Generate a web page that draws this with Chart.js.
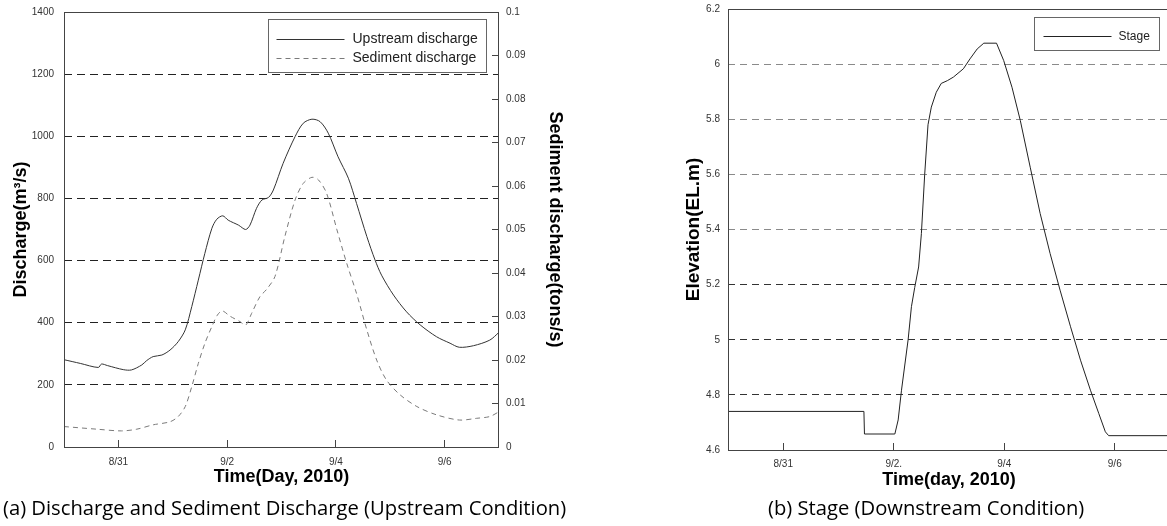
<!DOCTYPE html>
<html>
<head>
<meta charset="utf-8">
<script src="https://cdn.jsdelivr.net/npm/chart.js@4.4.0/dist/chart.umd.min.js"></script>
<style>
  html, body { margin: 0; padding: 0; background: #fff; overflow: hidden; width: 1167px; height: 526px; }
  .box { position: absolute; top: 0; }
  .caption { position: absolute; font-family: "Open Sans", "Noto Sans", sans-serif; font-size: 20.2px; color: #000; white-space: nowrap; }
</style>
</head>
<body>
<div class="box" style="left:0;width:568px;height:500px"><canvas id="chartA" width="568" height="500"></canvas></div>
<div class="box" style="left:660px;width:512px;height:500px"><canvas id="chartB" width="512" height="500"></canvas></div>
<div class="caption" style="left:3px;top:493px">(a) Discharge and Sediment Discharge (Upstream Condition)</div>
<div class="caption" style="left:768px;top:493px">(b) Stage (Downstream Condition)</div>
<script>
// days counted from 8/30 00:00
const tickDays = [1, 3, 5, 7];
const tickLabelsA = ['8/31', '9/2', '9/4', '9/6'];
const tickLabelsB = ['8/31', '9/2.', '9/4', '9/6'];

const upstreamDays = [0, 0.3, 0.63, 0.69, 0.8, 1.09, 1.24, 1.43, 1.52, 1.64, 1.80, 1.95, 2.10, 2.23, 2.35, 2.47, 2.59, 2.72, 2.81, 2.92, 3.02, 3.21, 3.34, 3.42, 3.54, 3.64, 3.76, 3.85, 4.03, 4.25, 4.40, 4.56, 4.71, 4.86, 5.04, 5.23, 5.38, 5.57, 5.72, 5.84, 6.06, 6.30, 6.55, 6.85, 7.10, 7.27, 7.53, 7.83, 8.0];
const upstreamQ = [281, 269, 256, 267, 262, 249, 248, 264, 278, 291, 296, 312, 339, 377, 452, 537, 623, 704, 733, 744, 730, 714, 700, 714, 768, 795, 803, 827, 913, 999, 1042, 1055, 1047, 1010, 934, 865, 784, 677, 602, 553, 489, 435, 393, 355, 334, 321, 326, 344, 369];

const sedimentDays = [0, 0.6, 1.06, 1.34, 1.64, 1.95, 2.10, 2.23, 2.35, 2.47, 2.59, 2.72, 2.82, 2.91, 3.05, 3.24, 3.34, 3.45, 3.60, 3.73, 3.88, 4.06, 4.25, 4.40, 4.56, 4.68, 4.83, 5.02, 5.20, 5.38, 5.57, 5.75, 5.93, 6.18, 6.49, 6.85, 7.27, 7.59, 7.83, 8.0];
const sedimentQ = [0.0047, 0.0041, 0.0037, 0.0041, 0.0051, 0.0058, 0.0070, 0.0093, 0.0139, 0.0192, 0.0238, 0.0277, 0.0303, 0.0313, 0.0301, 0.0288, 0.0280, 0.0307, 0.0345, 0.0363, 0.0392, 0.0483, 0.0568, 0.0606, 0.0620, 0.0614, 0.0583, 0.0499, 0.0422, 0.0353, 0.0269, 0.0200, 0.0154, 0.0120, 0.0093, 0.0074, 0.0062, 0.0066, 0.0070, 0.0081];

const stageDays = [0, 2.46, 2.47, 3.02, 3.08, 3.14, 3.26, 3.32, 3.38, 3.45, 3.50, 3.56, 3.62, 3.68, 3.77, 3.86, 3.97, 4.08, 4.26, 4.38, 4.51, 4.63, 4.86, 4.99, 5.14, 5.29, 5.47, 5.65, 5.83, 6.01, 6.20, 6.38, 6.56, 6.71, 6.83, 6.89, 8.0];
const stageElev = [4.74, 4.74, 4.658, 4.658, 4.709, 4.817, 5.0, 5.12, 5.19, 5.264, 5.385, 5.60, 5.78, 5.844, 5.898, 5.93, 5.94, 5.953, 5.983, 6.019, 6.055, 6.076, 6.076, 6.013, 5.916, 5.796, 5.626, 5.458, 5.313, 5.18, 5.047, 4.926, 4.817, 4.733, 4.666, 4.652, 4.652];

const pts = (xs, ys) => xs.map((x, i) => ({ x: x, y: ys[i] }));
const tickFont = { family: 'Arial, "Liberation Sans", sans-serif', size: 10 };
const titleFont = size => ({ family: 'Arial, "Liberation Sans", sans-serif', size: size, weight: 'bold' });

// fixed axis sizes, no extra label overflow padding
const fixW = w => s => { s.width = w; s.paddingTop = 0; s.paddingBottom = 0; };
const fixH = h => s => { s.height = h; s.paddingLeft = 0; s.paddingRight = 0; };

// frame round the plot area
const frame = {
  id: 'frame',
  afterDatasetsDraw(chart) {
    const a = chart.chartArea, c = chart.ctx;
    c.save();
    c.strokeStyle = '#444';
    c.lineWidth = 1;
    c.strokeRect(Math.round(a.left) + 0.5, Math.round(a.top) + 0.5, Math.round(a.right - a.left) - 1, Math.round(a.bottom - a.top));
    c.restore();
  }
};

// boxed legend inside the plot, like the original figure
function boxLegend(cfg) {
  return {
    id: 'boxLegend',
    afterDraw(chart) {
      const a = chart.chartArea, c = chart.ctx;
      const x0 = Math.round(a.right - cfg.right - cfg.width) + 0.5;
      const y0 = Math.round(a.top + cfg.top) + 0.5;
      c.save();
      c.fillStyle = '#fff';
      c.fillRect(x0, y0, cfg.width, cfg.height);
      c.strokeStyle = '#666';
      c.lineWidth = 1;
      c.strokeRect(x0, y0, cfg.width, cfg.height);
      chart.data.datasets.forEach((ds, i) => {
        const y = Math.round(y0 + cfg.firstRow + i * cfg.rowGap) + 0.5;
        c.strokeStyle = ds.borderColor;
        c.setLineDash(ds.borderDash || []);
        c.beginPath();
        c.moveTo(x0 + cfg.lineStart, y);
        c.lineTo(x0 + cfg.lineEnd, y);
        c.stroke();
        c.setLineDash([]);
        c.fillStyle = '#222';
        c.font = cfg.fontSize + 'px Arial, "Liberation Sans", sans-serif';
        c.textBaseline = 'middle';
        c.fillText(ds.label, x0 + cfg.textStart, y);
      });
      c.restore();
    }
  };
}

new Chart(document.getElementById('chartA'), {
  type: 'line',
  data: {
    datasets: [
      { label: 'Upstream discharge', data: pts(upstreamDays, upstreamQ), yAxisID: 'y', borderColor: '#333', borderWidth: 1, pointRadius: 0, tension: 0.3 },
      { label: 'Sediment discharge', data: pts(sedimentDays, sedimentQ), yAxisID: 'y2', borderColor: '#7a7a7a', borderWidth: 1, borderDash: [5, 4], pointRadius: 0, tension: 0.3 }
    ]
  },
  options: {
    responsive: false,
    animation: false,
    layout: { padding: { top: 12, left: 0, right: 0, bottom: 0 } },
    plugins: { legend: { display: false }, tooltip: { enabled: false } },
    scales: {
      x: {
        type: 'linear', position: 'bottom', min: 0, max: 8,
        afterBuildTicks: s => { s.ticks = tickDays.map(v => ({ value: v })); },
        afterFit: fixH(53),
        ticks: { font: tickFont, color: '#333', padding: 16, maxRotation: 0, autoSkip: false,
          callback: v => tickLabelsA[tickDays.indexOf(v)] },
        grid: { drawOnChartArea: false, tickLength: -7, tickColor: '#444' },
        border: { display: false },
        title: { display: true, text: 'Time(Day, 2010)', font: titleFont(18), color: '#000', padding: { top: 0, bottom: 12 } }
      },
      y: {
        type: 'linear', position: 'left', min: 0, max: 1400,
        afterFit: fixW(64),
        ticks: { stepSize: 200, font: tickFont, color: '#333', padding: 10, callback: v => String(v) },
        grid: { drawTicks: false, color: c => (c.tick.value === 0 || c.tick.value === 1400) ? 'rgba(0,0,0,0)' : '#222' },
        border: { display: false, dash: [8, 5] },
        title: { display: true, text: 'Discharge(m³/s)', font: titleFont(18), color: '#000', padding: { top: 10, bottom: 0 } }
      },
      y2: {
        type: 'linear', position: 'right', min: 0, max: 0.1,
        afterFit: fixW(69),
        ticks: { stepSize: 0.01, font: tickFont, color: '#333', padding: 14,
          callback: v => String(+v.toFixed(2)) },
        grid: { drawOnChartArea: false, tickLength: -7, tickColor: '#444' },
        border: { display: false },
        title: { display: true, text: 'Sediment discharge(tons/s)', font: titleFont(18), color: '#000', padding: { top: 2, bottom: 0 } }
      }
    }
  },
  plugins: [frame, boxLegend({ right: 13, top: 7, width: 218, height: 53, firstRow: 19, rowGap: 19, lineStart: 8, lineEnd: 76, textStart: 84, fontSize: 14 })]
});

new Chart(document.getElementById('chartB'), {
  type: 'line',
  data: {
    datasets: [
      { label: 'Stage', data: pts(stageDays, stageElev), borderColor: '#222', borderWidth: 1, pointRadius: 0, tension: 0 }
    ]
  },
  options: {
    responsive: false,
    animation: false,
    layout: { padding: { top: 9, left: 0, right: 2, bottom: 0 } },
    plugins: { legend: { display: false }, tooltip: { enabled: false } },
    scales: {
      x: {
        type: 'linear', position: 'bottom', min: 0, max: 8,
        afterBuildTicks: s => { s.ticks = tickDays.map(v => ({ value: v })); },
        afterFit: fixH(50),
        ticks: { font: tickFont, color: '#333', padding: 15, maxRotation: 0, autoSkip: false,
          callback: v => tickLabelsB[tickDays.indexOf(v)] },
        grid: { drawOnChartArea: false, tickLength: -7, tickColor: '#444' },
        border: { display: false },
        title: { display: true, text: 'Time(day, 2010)', font: titleFont(18), color: '#000', padding: { top: 0, bottom: 9 } }
      },
      y: {
        type: 'linear', position: 'left', min: 4.6, max: 6.2,
        afterFit: fixW(68),
        ticks: { stepSize: 0.2, font: tickFont, color: '#333', padding: 8,
          callback: v => String(+v.toFixed(1)) },
        grid: { drawTicks: false,
          color: c => (c.tick.value <= 4.61 || c.tick.value >= 6.19) ? 'rgba(0,0,0,0)' : (c.tick.value >= 5.39 ? '#8a8a8a' : '#333') },
        border: { display: false, dash: [7, 5] },
        title: { display: true, text: 'Elevation(EL.m)', font: titleFont(19), color: '#000', padding: { top: 22, bottom: 0 } }
      }
    }
  },
  plugins: [frame, boxLegend({ right: 11, top: 8, width: 125, height: 33, firstRow: 18, rowGap: 0, lineStart: 9, lineEnd: 77, textStart: 84, fontSize: 12 })]
});
</script>
</body>
</html>
